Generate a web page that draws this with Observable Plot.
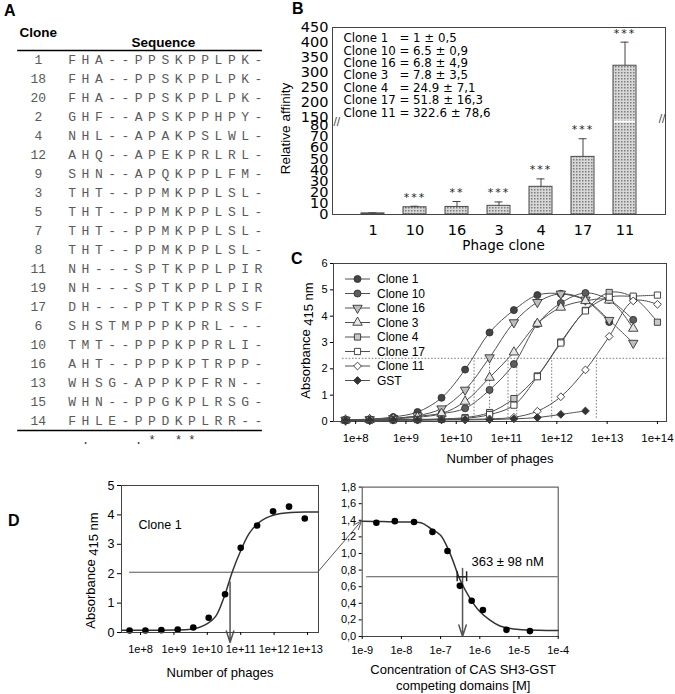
<!DOCTYPE html>
<html>
<head>
<meta charset="utf-8">
<script src="https://cdn.jsdelivr.net/npm/d3@7"></script>
<script src="https://cdn.jsdelivr.net/npm/@observablehq/plot@0.6"></script>
<style>
html,body{margin:0;padding:0;background:#fff;}
#root{position:relative;width:675px;height:694px;overflow:hidden;font-family:"Liberation Sans",Arial,sans-serif;}
.panel{position:absolute;}
.tag{position:absolute;font:bold 16px/1 "Liberation Sans",Arial,sans-serif;color:#000;}
</style>
</head>
<body>
<div id="root">
<svg width="0" height="0" style="position:absolute">
 <defs>
  <pattern id="dots" width="3" height="3" patternUnits="userSpaceOnUse">
   <rect width="3" height="3" fill="#d8d8d8"></rect>
   <rect width="1.5" height="1.5" fill="#7c7c7c"></rect>
  </pattern>
 </defs>
</svg>
<div class="tag" style="left:4px;top:3px">A</div>
<div class="tag" style="left:292px;top:1px">B</div>
<div class="tag" style="left:291px;top:251px">C</div>
<div class="tag" style="left:8px;top:513px">D</div>
<div id="pA" class="panel" style="left:0;top:0"></div>
<div id="pB" class="panel" style="left:270px;top:0"></div>
<div id="pC" class="panel" style="left:270px;top:250px"></div>
<div id="pDL" class="panel" style="left:0;top:475px"></div>
<div id="pDR" class="panel" style="left:330px;top:475px"></div>
<svg id="overlay" width="675" height="694" style="position:absolute;left:0;top:0;pointer-events:none"></svg>
</div>
<script>
// ================= DATA =================
// Panel A: sequence alignment
const cloneIds = ["1","18","20","2","4","12","9","3","5","7","8","11","19","17","6","10","16","13","15","14"];
const sequences = [
  "FHA--PPSKPPLPK-","FHA--PPSKPPLPK-","FHA--PPSKPPLPK-","GHF--APSKPPHPY-","NHL--APAKPSLWL-",
  "AHQ--APEKPRLRL-","SHN--APQKPPLFM-","THT--PPMKPPLSL-","THT--PPMKPPLSL-","THT--PPMKPPLSL-",
  "THT--PPMKPPLSL-","NH---SPTKPPLPIR","NH---SPTKPPLPIR","DH---PPTKPPRSSF","SHSTMPPPKPRL---",
  "TMT--PPPKPPRLI-","AHT--PPPKPTRPP-","WHSG-APPKPFRN--","WHN--PPGKPLRSG-","FHLE-PPDKPLRR--"
];
const consensus = " .   .* **     ";

// Panel B: relative affinity
const phageClones = ["1","10","16","3","4","17","11"];
const relAffinity = [1, 6.5, 6.8, 7.8, 24.9, 51.8, 322.6];
const relAffinitySD = [0.5, 0.9, 4.9, 3.5, 7.1, 16.3, 78.6];
const significance = ["", "***", "**", "***", "***", "***", "***"];
const affinityTicks = [0,10,20,30,40,50,60,70,80,150,200,250,300,350,400,450];

// Panel C: ELISA titration
const phageCounts = [6.3e7,1.9e8,5.6e8,1.7e9,5.1e9,1.5e10,4.6e10,1.4e11,4.1e11,1.2e12,3.7e12,1.1e13,3.3e13,1e14];
const cSeriesNames = ["Clone 1","Clone 10","Clone 16","Clone 3","Clone 4","Clone 17","Clone 11","GST"];
const absClone1  = [0.07,0.09,0.17,0.36,0.90,1.97,3.38,4.23,4.80,4.85,4.60,3.78];
const absClone10 = [0.06,0.07,0.12,0.20,0.30,0.50,1.20,2.18,3.70,4.50,4.88,4.62,3.86];
const absClone16 = [0.06,0.08,0.12,0.22,0.49,1.20,2.43,3.76,4.53,4.85,4.62,3.85,2.98];
const absClone3  = [0.05,0.07,0.10,0.16,0.30,0.76,1.67,2.63,3.72,4.33,4.58,4.60,3.53];
const absClone4  = [0.05,0.06,0.07,0.08,0.10,0.15,0.34,0.87,1.73,3.02,4.22,4.90,4.72,3.77];
const absClone17 = [0.04,0.05,0.06,0.07,0.08,0.12,0.26,0.62,1.70,2.98,4.20,4.72,4.76,4.80];
const absClone11 = [0.03,0.04,0.05,0.06,0.07,0.08,0.10,0.16,0.39,0.94,1.96,3.23,4.58,4.45];
const absGST     = [0.03,0.04,0.05,0.05,0.06,0.06,0.07,0.10,0.15,0.27,0.40];
const halfMaxC = 2.4;
const ec50Phages = [2.26e10, 4.6e10, 1.07e11, 1.6e11, 7.9e11, 6.1e12];
const phageTicks = [1e8,1e9,1e10,1e11,1e12,1e13,1e14];
const absTicksC = [0,1,2,3,4,5,6];

// Panel D left: clone 1 titration + fit
const dPhages = [4.7e7,1.4e8,4.2e8,1.3e9,3.8e9,1.1e10,3.4e10,1.0e11,3.1e11,9.3e11,2.8e12,8.3e12];
const dAbs    = [0.07,0.07,0.08,0.10,0.17,0.50,1.30,2.88,3.64,4.12,4.28,3.88];
const dFitLogPhages = [7.43,8,8.5,9,9.5,9.75,10,10.25,10.5,10.75,11,11.25,11.5,11.75,12,12.5,13,13.33];
const dFitAbs       = [0.08,0.08,0.08,0.085,0.11,0.17,0.30,0.55,1.20,2.07,2.78,3.36,3.70,3.89,4.00,4.08,4.10,4.10];
const halfMaxD = 2.05;
const ec50D = 4.8e10;
const phageTicksD = [1e8,1e9,1e10,1e11,1e12,1e13];
const absTicksD = [0,1,2,3,4,5];

// Panel D right: competition
const casConc = [2.3e-9,6.8e-9,2.1e-8,6.2e-8,1.5e-7,3.1e-7,6.2e-7,1.2e-6,4.8e-6,1.9e-5];
const casAbs  = [1.37,1.39,1.38,1.26,1.03,0.61,0.43,0.32,0.08,0.065];
const casFitLog = [-9,-8.5,-8,-7.5,-7.25,-7,-6.75,-6.5,-6.25,-6,-5.75,-5.5,-5.25,-5,-4.5,-4];
const casFitAbs = [1.39,1.385,1.38,1.37,1.30,1.22,0.99,0.68,0.46,0.30,0.20,0.13,0.10,0.085,0.075,0.072];
const casTop = 1.39;
const halfMaxDR = 0.72;
const ic50nM = 363, ic50sdNM = 98;
const casTicks = [1e-9,1e-8,1e-7,1e-6,1e-5,1e-4];
const absTicksDR = [0,0.2,0.4,0.6,0.8,1.0,1.2,1.4,1.6,1.8];

// ================= HELPERS =================
const sans = "Liberation Sans, Arial, sans-serif";
const mono = "Liberation Mono, Courier New, monospace";
const fmtExp = d => { const e = Math.round(Math.log10(d)); return e >= 0 ? `1e+${e}` : `1e${e}`; };
const fmtInt = d => String(d);
function brk(v) { return v <= 80 ? v : 80 + 7.19 + (v - 150) * 0.2697; }
const triDown = {draw(ctx, size) {
  const y = -Math.sqrt(size / (3 * Math.sqrt(3)));
  ctx.moveTo(0, -2 * y); ctx.lineTo(-Math.sqrt(3) * y, y); ctx.lineTo(Math.sqrt(3) * y, y); ctx.closePath();
}};
const baseStyle = (fs, ff) => ({fontFamily: ff || sans, fontSize: fs + "px", background: "transparent", overflow: "visible", color: "#000"});
const yTitle = (txt, dx, dy, fs) => Plot.text([txt], {frameAnchor: "left", textAnchor: "middle", lineAnchor: "middle", rotate: -90, dx, dy, fontSize: fs, fontFamily: sans});
const xTitle = (txt, dx, dy, fs, extra) => Plot.text([txt], {frameAnchor: "bottom", textAnchor: "middle", lineAnchor: "middle", dx, dy, fontSize: fs, ...(extra || {})});

// ================= PANEL A =================
const cellsA = sequences.flatMap((s, r) => [...s].map((ch, i) => ({r, i, ch})));
const consA = [...consensus].map((ch, i) => ({i, ch})).filter(d => d.ch.trim());
const plotA = Plot.plot({
  width: 270, height: 460, margin: 0,
  style: baseStyle(13),
  x: {domain: [-5, 14.5], range: [5.2, 264.55], axis: null},
  y: {domain: [0, 19], range: [59, 420], axis: null},
  marks: [
    Plot.text(cloneIds, {x: -2.55, y: (d, i) => i, text: d => d, fontFamily: mono, fontSize: 13, fill: "#5a5a5a"}),
    Plot.text(cellsA, {x: "i", y: "r", text: "ch", fontFamily: mono, fontSize: 13, fill: "#5a5a5a"}),
    Plot.text(["Clone"], {x: -2.55, y: -1.42, text: d => d, fontWeight: "bold", fontSize: 13.5}),
    Plot.text(["Sequence"], {x: 6.85, y: -0.88, text: d => d, fontWeight: "bold", fontSize: 13.5}),
    Plot.ruleY([-0.47, 19.53], {x1: -4.1, x2: 14.3, stroke: "#000", strokeWidth: 1.5}),
    Plot.text(consA, {x: "i", y: 20.05, text: "ch", fontFamily: mono, fontSize: 12, fill: "#333"})
  ]
});
document.getElementById("pA").append(plotA);

// ================= PANEL B =================
const bData = phageClones.map((c, i) => ({c, v: relAffinity[i], sd: relAffinitySD[i], sig: significance[i]}));
const breakT = (brk(80) + brk(150)) / 2;
const tickMapB = new Map(affinityTicks.map(t => [brk(t), t]));
const legendB = phageClones.map((c, i) =>
  `Clone ${c}${c.length < 2 ? "\u00a0\u00a0\u00a0" : " "}= ${relAffinity[i]} ± ${String(relAffinitySD[i]).replace(".", ",")}`
).join("\n");
const plotB = Plot.plot({
  width: 405, height: 250, marginLeft: 62, marginRight: 10, marginTop: 27, marginBottom: 36,
  style: baseStyle(14.5, "DejaVu Sans, sans-serif"),
  x: {domain: phageClones, paddingInner: 0.46, paddingOuter: 0.62},
  y: {domain: [0, brk(450)]},
  marks: [
    Plot.barY(bData, {x: "c", y: d => brk(d.v), fill: "url(#dots)", stroke: "#4a4a4a", strokeWidth: 1}),
    Plot.tickY(bData.filter(d => d.v > 150), {x: "c", y: () => breakT, stroke: "#fff", strokeWidth: 2, insetLeft: 1, insetRight: 1}),
    Plot.ruleX(bData, {x: "c", y1: d => brk(d.v), y2: d => brk(d.v + d.sd), stroke: "#444"}),
    Plot.tickY(bData, {x: "c", y: d => brk(d.v + d.sd), stroke: "#444", insetLeft: 7.5, insetRight: 7.5}),
    Plot.text(bData, {x: "c", y: d => brk(d.v + d.sd), text: "sig", dy: -9, fontSize: 11, fill: "#222"}),
    Plot.frame({stroke: "#444"}),
    Plot.axisY({ticks: affinityTicks.map(brk), tickFormat: t => tickMapB.get(t), tickSize: 0, tickPadding: 4, label: null}),
    Plot.axisX({tickSize: 0, tickPadding: 10, label: null}),
    Plot.text(["//"], {frameAnchor: "left", y: () => breakT, dx: 1, fontSize: 10, fill: "#333"}),
    Plot.text(["//"], {frameAnchor: "right", y: () => breakT + 2, fontSize: 10, fill: "#333"}),
    Plot.text([legendB], {frameAnchor: "top-left", dx: 11, dy: 6, textAnchor: "start", lineAnchor: "top", lineHeight: 1.05, fontSize: 11.8}),
    yTitle("Relative affinity", -47, 7.5, 13.5),
    xTitle("Phage clone", 4.5, 31, 13.5)
  ]
});
d3.select(plotB).selectAll("text").filter(function() { return this.textContent.includes("*"); }).attr("letter-spacing", "2px");
document.getElementById("pB").append(plotB);

// ================= PANEL C =================
const cValues = [absClone1, absClone10, absClone16, absClone3, absClone4, absClone17, absClone11, absGST];
const cSymbols = [d3.symbolCircle, d3.symbolCircle, triDown, d3.symbolTriangle, d3.symbolSquare, d3.symbolSquare, d3.symbolDiamond2, d3.symbolDiamond2];
const cFills = ["#444", "#5e5e5e", "#bdbdbd", "#e6e6e6", "#c8c8c8", "#ffffff", "#ffffff", "#333"];
const cSeries = cSeriesNames.map((name, k) => ({name, values: cValues[k], symbol: cSymbols[k], fill: cFills[k]}));
const cRows = cSeries.flatMap(s => s.values.map((v, i) => ({name: s.name, x: phageCounts[i], y: v})));
const cDomain = [10 ** 7.56, 10 ** 14.18];
const plotC = Plot.plot({
  width: 405, height: 220, marginLeft: 63, marginRight: 9, marginTop: 13, marginBottom: 49,
  style: baseStyle(11),
  x: {type: "log", domain: cDomain},
  y: {domain: [0, 6]},
  marks: [
    Plot.ruleY([halfMaxC], {x1: 5.5e7, x2: cDomain[1], stroke: "#777", strokeDasharray: "1.5,1.8"}),
    Plot.ruleX(ec50Phages, {y1: 0.12, y2: halfMaxC, stroke: "#777", strokeDasharray: "1.5,1.8"}),
    Plot.line(cRows, {x: "x", y: "y", z: "name", curve: "catmull-rom", stroke: "#505050", strokeWidth: 1}),
    ...cSeries.map(s => Plot.dot(cRows.filter(d => d.name === s.name), {x: "x", y: "y", symbol: s.symbol, fill: s.fill, stroke: "#333", strokeWidth: 0.9, r: 3.5})),
    Plot.frame({stroke: "#444"}),
    Plot.axisY({ticks: absTicksC, tickFormat: fmtInt, tickSize: 3, tickPadding: 3, label: null}),
    Plot.axisX({ticks: phageTicks, tickFormat: fmtExp, tickSize: 3, tickPadding: 9, label: null, fontSize: 11.5}),
    yTitle("Absorbance 415 nm", -28, -2, 13),
    xTitle("Number of phages", 0, 37, 13)
  ]
});
document.getElementById("pC").append(plotC);

// ================= PANEL D LEFT =================
const dRows = dPhages.map((x, i) => ({x, y: dAbs[i]}));
const dFit = dFitLogPhages.map((l, i) => ({x: 10 ** l, y: dFitAbs[i]}));
const dlDomain = [10 ** 7.43, 10 ** 13.33];
const plotDL = Plot.plot({
  width: 330, height: 219, marginLeft: 121, marginRight: 12, marginTop: 10, marginBottom: 62,
  style: baseStyle(12),
  x: {type: "log", domain: dlDomain},
  y: {domain: [0, 5]},
  marks: [
    Plot.ruleY([halfMaxD], {x1: dPhages[0], x2: dlDomain[1], stroke: "#555"}),
    Plot.line(dFit, {x: "x", y: "y", curve: "catmull-rom", stroke: "#333"}),
    Plot.arrow([{x: ec50D, y1: 1.72, y2: -0.34}], {x1: "x", x2: "x", y1: "y1", y2: "y2", stroke: "#555", headLength: 12, headAngle: 36}),
    Plot.dot(dRows, {x: "x", y: "y", fill: "#000", r: 3.3}),
    Plot.frame({stroke: "#444"}),
    Plot.axisY({ticks: absTicksD, tickFormat: fmtInt, tickSize: 4, tickPadding: 3, label: null, fontSize: 12.5}),
    Plot.axisX({ticks: phageTicksD, tickFormat: fmtExp, tickSize: 3, tickPadding: 10, label: null, fontSize: 11}),
    Plot.text(["Clone 1"], {frameAnchor: "top-left", dx: 17, dy: 39, textAnchor: "start", lineAnchor: "middle", fontSize: 12.5}),
    yTitle("Absorbance 415 nm", -31, 11.5, 13),
    xTitle("Number of phages", 0, 40, 13)
  ]
});
document.getElementById("pDL").append(plotDL);

// ================= PANEL D RIGHT =================
const casRows = casConc.map((x, i) => ({x, y: casAbs[i]}));
const casFit = casFitLog.map((l, i) => ({x: 10 ** l, y: casFitAbs[i]}));
const ic50 = ic50nM * 1e-9, ic50sd = ic50sdNM * 1e-9;
const fmtComma = d => d3.format(".1f")(d).replace(".", ",");
const plotDR = Plot.plot({
  width: 345, height: 219, marginLeft: 31.7, marginRight: 117.3, marginTop: 11.6, marginBottom: 58,
  style: baseStyle(11),
  x: {type: "log", domain: [1e-9, 1e-4]},
  y: {domain: [0, 1.8]},
  marks: [
    Plot.ruleY([halfMaxDR], {x1: 1.3e-9, x2: 1e-4, stroke: "#555"}),
    Plot.line(casFit, {x: "x", y: "y", curve: "catmull-rom", stroke: "#333"}),
    Plot.arrow([{x: ic50, y1: 0.82, y2: 0}], {x1: "x", x2: "x", y1: "y1", y2: "y2", stroke: "#555", headLength: 12, headAngle: 36}),
    Plot.ruleY([halfMaxDR], {x1: ic50 - ic50sd, x2: ic50 + ic50sd, stroke: "#222", strokeWidth: 1.5}),
    Plot.ruleX([ic50 - ic50sd, ic50 + ic50sd], {y1: halfMaxDR - 0.06, y2: halfMaxDR + 0.06, stroke: "#222", strokeWidth: 1.5}),
    Plot.dot(casRows, {x: "x", y: "y", fill: "#000", r: 3.3}),
    Plot.text([`${ic50nM} ± ${ic50sdNM} nM`], {x: ic50, y: 0.9, dx: 9, textAnchor: "start", fontSize: 13}),
    Plot.frame({stroke: "#444"}),
    Plot.axisY({ticks: absTicksDR, tickFormat: fmtComma, tickSize: 3, tickPadding: 3, label: null}),
    Plot.axisX({ticks: casTicks, tickFormat: fmtExp, tickSize: 3, tickPadding: 7, label: null}),
    xTitle("Concentration of CAS SH3-GST\ncompeting domains [M]", 3, 40.5, 13, {lineHeight: 1.22})
  ]
});
document.getElementById("pDR").append(plotDR);

// ================= subscripts in "Absorbance 415 nm" =================
[plotC, plotDL].forEach(p => {
  d3.select(p).selectAll("text").filter(function() { return this.textContent === "Absorbance 415 nm"; })
    .each(function() {
      const t = d3.select(this);
      t.text(null);
      t.append("tspan").text("Absorbance ");
      t.append("tspan").attr("dy", 3).text("415 nm");
    });
});

// ================= OVERLAY: legend of C and connector of D =================
const ov = d3.select("#overlay");
function sc(plot, name) {
  const s = plot.scale(name);
  if (s.apply) return v => s.apply(v);
  return (s.type === "log" ? d3.scaleLog() : d3.scaleLinear()).domain(s.domain).range(s.range);
}
// legend C
const cFrameLeft = 270 + plotC.scale("x").range[0];
const cFrameTop = 250 + Math.min(...plotC.scale("y").range);
cSeries.forEach((s, k) => {
  const y = cFrameTop + 16 + 14.5 * k;
  const x0 = cFrameLeft + 12;
  ov.append("line").attr("x1", x0).attr("x2", x0 + 25).attr("y1", y).attr("y2", y).attr("stroke", "#505050");
  ov.append("path").attr("d", d3.symbol(s.symbol, 38.5)()).attr("transform", `translate(${x0 + 12.5},${y})`)
    .attr("fill", s.fill).attr("stroke", "#333").attr("stroke-width", 0.9);
  ov.append("text").attr("x", x0 + 32).attr("y", y).attr("dominant-baseline", "central")
    .attr("font-family", sans).attr("font-size", 12).text(s.name);
});
// connector D
const dlY = sc(plotDL, "y"), drY = sc(plotDR, "y");
const xa = 0 + Math.max(...plotDL.scale("x").range), ya = 475 + dlY(halfMaxD);
const xb = 330 + Math.min(...plotDR.scale("x").range), yb = 475 + drY(casTop);
ov.append("line").attr("x1", xa).attr("y1", ya).attr("x2", xb).attr("y2", yb).attr("stroke", "#555");
const ang = Math.atan2(yb - ya, xb - xa);
[-0.35, 0.35].forEach(da => {
  ov.append("line").attr("x1", xb).attr("y1", yb)
    .attr("x2", xb - 10 * Math.cos(ang + da)).attr("y2", yb - 10 * Math.sin(ang + da)).attr("stroke", "#555");
});
</script>
</body>
</html>
